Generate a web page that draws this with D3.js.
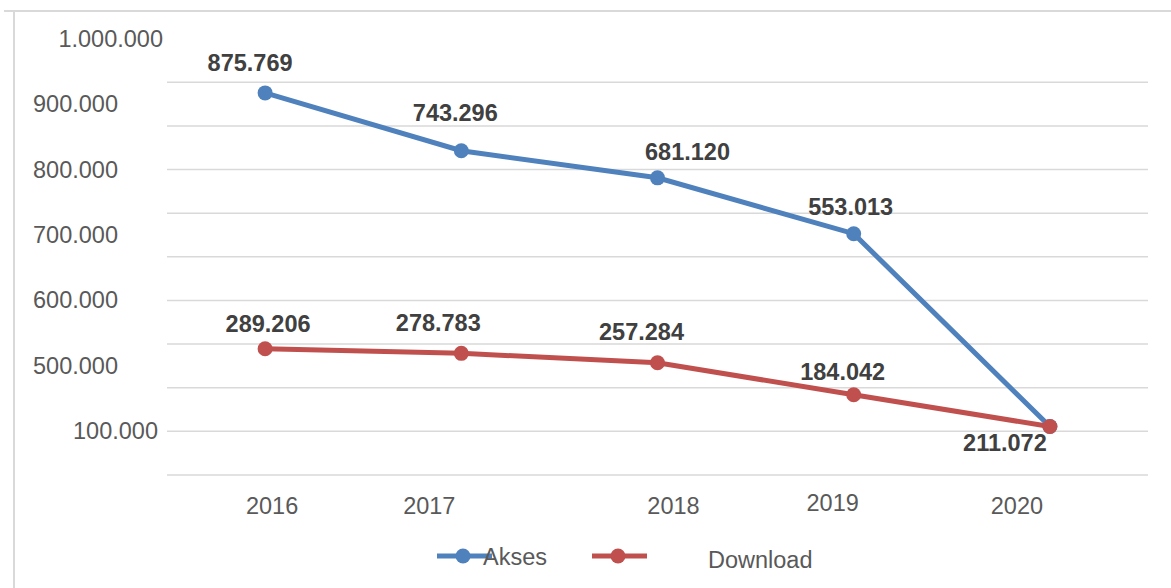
<!DOCTYPE html>
<html lang="en">

<head>
    <meta charset="UTF-8">
    <script src="https://d3js.org/d3.v7.min.js"></script>
    <title>Akses dan Download</title>
    <style>
        body { margin: 0; background: #fff; }
        text { font-family: "Liberation Sans", Arial, sans-serif; }
        .grid { stroke: #d9d9d9; stroke-width: 1.5px; }
        .frame { stroke: #d9d9d9; stroke-width: 2px; }
        .tick-label { fill: #595959; font-size: 23.5px; }
        .value-label { fill: #404040; font-size: 23.5px; font-weight: bold; }
        .line { fill: none; stroke-width: 5px; }
    </style>
</head>

<body>
    <script>
        // Data
        var years = ["2016", "2017", "2018", "2019", "2020"];
        var akses = [875769, 743296, 681120, 553013, 111000];
        var download = [289206, 278783, 257284, 184042, 111000];
        var aksesLabels = ["875.769", "743.296", "681.120", "553.013", ""];
        var downloadLabels = ["289.206", "278.783", "257.284", "184.042", "211.072"];

        // y axis labels as printed on the chart, and where they sit on the value scale
        var yTickText = ["1.000.000", "900.000", "800.000", "700.000", "600.000", "500.000", "100.000"];
        var yTickAt = [1000000, 850000, 700000, 550000, 400000, 250000, 100000];
        var gridValues = [0, 100000, 200000, 300000, 400000, 500000, 600000, 700000, 800000, 900000];

        // Layout nudges (labels are not aligned in the original)
        var yTickShift = [-4, -49, -49, -49, -49, -49, -9];
        var xLabelShift = [[7, 0], [-32, 0], [16, 0], [-21, -3], [-33, 0]];
        var aksesLabelShift = [[-15, -30], [-6, -38], [30, -26], [-3, -27], [0, 0]];
        var downloadLabelShift = [[3, -25], [-23, -30], [-16, -31], [-11, -23], [-45, 16]];

        var width = 1171, height = 588;
        var colors = { akses: "#4f81bd", download: "#c0504d" };

        var svg = d3.select("body").append("svg")
            .attr("width", width)
            .attr("height", height);

        // chart frame (top and left edges visible)
        svg.append("line").attr("class", "frame")
            .attr("x1", 4).attr("x2", width).attr("y1", 11).attr("y2", 11);
        svg.append("line").attr("class", "frame")
            .attr("x1", 14).attr("x2", 14).attr("y1", 11).attr("y2", height);

        // Scales
        var x = d3.scaleBand().domain(years).range([167, 1148]);
        var y = d3.scaleLinear().domain([0, 1000000]).range([475, 38.7]);
        var cx = function (d, i) { return x(years[i]) + x.bandwidth() / 2; };

        // Gridlines
        svg.append("g").selectAll("line")
            .data(gridValues)
            .enter().append("line")
            .attr("class", "grid")
            .attr("x1", x.range()[0]).attr("x2", x.range()[1])
            .attr("y1", function (d) { return y(d); })
            .attr("y2", function (d) { return y(d); });

        // Y labels
        svg.append("g").selectAll("text")
            .data(yTickText)
            .enter().append("text")
            .attr("class", "tick-label")
            .attr("text-anchor", "end")
            .attr("dominant-baseline", "central")
            .attr("x", function (d, i) { return x.range()[0] + yTickShift[i]; })
            .attr("y", function (d, i) { return y(yTickAt[i]); })
            .text(function (d) { return d; });

        // X labels
        svg.append("g").selectAll("text")
            .data(years)
            .enter().append("text")
            .attr("class", "tick-label")
            .attr("text-anchor", "middle")
            .attr("dominant-baseline", "central")
            .attr("x", function (d, i) { return cx(d, i) + xLabelShift[i][0]; })
            .attr("y", 506 + 0)
            .attr("dy", function (d, i) { return xLabelShift[i][1]; })
            .text(function (d) { return d; });

        var valueline = d3.line()
            .x(cx)
            .y(function (d) { return y(d); });

        function drawSeries(values, labels, shifts, color) {
            svg.append("path")
                .datum(values)
                .attr("class", "line")
                .attr("stroke", color)
                .attr("d", valueline);

            svg.append("g").selectAll("circle")
                .data(values)
                .enter().append("circle")
                .attr("cx", cx)
                .attr("cy", function (d) { return y(d); })
                .attr("r", 7.5)
                .attr("fill", color);

            svg.append("g").selectAll("text")
                .data(values)
                .enter().append("text")
                .attr("class", "value-label")
                .attr("text-anchor", "middle")
                .attr("dominant-baseline", "central")
                .attr("x", function (d, i) { return cx(d, i) + shifts[i][0]; })
                .attr("y", function (d, i) { return y(d) + shifts[i][1]; })
                .text(function (d, i) { return labels[i]; });
        }

        drawSeries(akses, aksesLabels, aksesLabelShift, colors.akses);
        drawSeries(download, downloadLabels, downloadLabelShift, colors.download);

        // Legend
        var legend = [
            { name: "Akses", color: colors.akses, x: 437, textX: 483, textY: 557 },
            { name: "Download", color: colors.download, x: 592, textX: 708, textY: 560 }
        ];
        var lg = svg.append("g").selectAll("g")
            .data(legend)
            .enter().append("g");
        lg.append("line")
            .attr("x1", function (d) { return d.x; })
            .attr("x2", function (d) { return d.x + 55; })
            .attr("y1", 556).attr("y2", 556)
            .attr("stroke", function (d) { return d.color; })
            .attr("stroke-width", 5);
        lg.append("circle")
            .attr("cx", function (d) { return d.x + 26; })
            .attr("cy", 556)
            .attr("r", 7.5)
            .attr("fill", function (d) { return d.color; });
        lg.append("text")
            .attr("class", "tick-label")
            .attr("dominant-baseline", "central")
            .attr("x", function (d) { return d.textX; })
            .attr("y", function (d) { return d.textY; })
            .text(function (d) { return d.name; });
    </script>
</body>

</html>
